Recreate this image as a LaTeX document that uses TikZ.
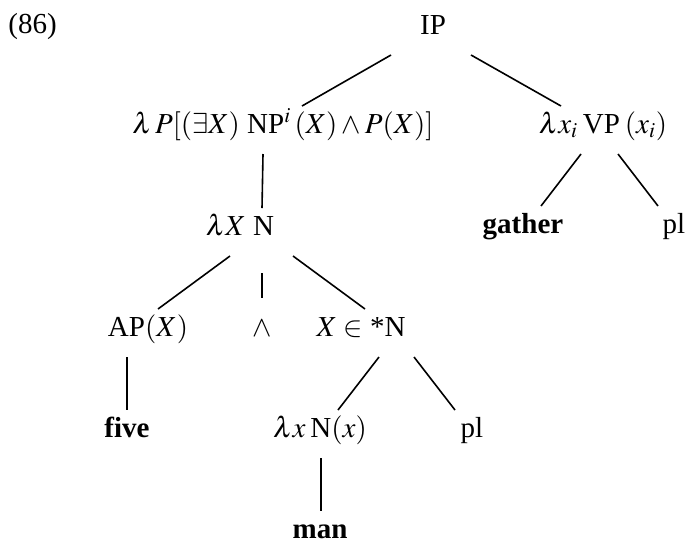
\documentclass[tikz,border=0pt]{standalone}
\usepackage{mathptmx}
\usepackage[no-math]{fontspec}
\setmainfont{Liberation Serif}
\usetikzlibrary{calc}

\begin{document}
\begin{tikzpicture}[x=0.5pt,y=-0.5pt,
  lab/.style={inner sep=0pt,outer ysep=3.5pt,anchor=base,font=\fontsize{14.5}{17}\selectfont,
    text height=10pt,text depth=7pt}]
\useasboundingbox (0,0) rectangle (688,542);

\node[lab,anchor=base west] (ex) at (8,33) {(86)};
\node[lab] (ip) at (433,34) {IP};
\node[lab] (lp) at (283,133) {$\lambda\,P[(\exists X)$ NP$^i\,(X)\wedge P(X)]$};
\node[lab] (vp) at (603,133) {$\lambda x_i$\,VP\,$(x_i)$};
\node[lab] (lxn) at (240,235) {$\lambda X$ N};
\node[lab] (ga) at (523,233) {\textbf{gather}};
\node[lab] (pla) at (674,233) {pl};
\node[lab] (ap) at (148,336) {AP$(X)$};
\node[lab] (wedge) at (262,336) {$\wedge$};
\node[lab] (xin) at (361,336) {$X\in$ *N};
\node[lab] (five) at (127,437) {\textbf{five}};
\node[lab] (lxx) at (320,437) {$\lambda x$\,N$(x)$};
\node[lab] (plb) at (472,437) {pl};
\node[lab] (man) at (320,538) {\textbf{man}};

\foreach \a/\da/\b/\db in {ip/-42/lp/19, ip/38/vp/-42, lp/-20/lxn/22, vp/-22/ga/18, vp/15/pla/-16,
  lxn/-10/ap/10, lxn/53/xin/4, ap/-21/five/0, xin/18/lxx/18, xin/53/plb/-17, lxx/1/man/1}
  \draw[thick] ($(\a.south)+(\da,0)$) -- ($(\b.north)+(\db,0)$);
\draw[thick,shorten <=8.5pt,shorten >=5.5pt] ($(lxn.south)+(22,0)$) -- (wedge.north);

\end{tikzpicture}
\end{document}
